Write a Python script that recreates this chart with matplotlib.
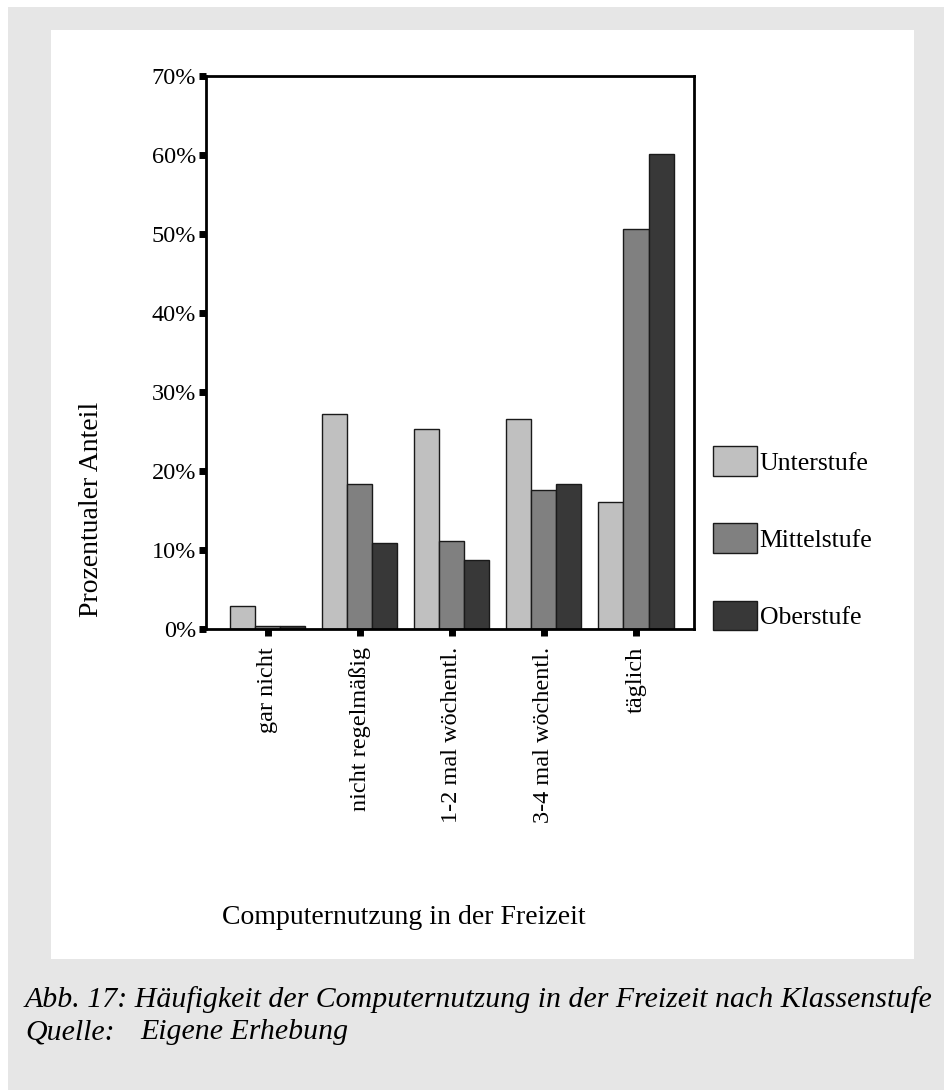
import matplotlib
matplotlib.use('Agg')
import matplotlib.pyplot as plt
import numpy as np
from matplotlib.patches import Rectangle
from matplotlib.ticker import FuncFormatter

categories = ['gar nicht', 'nicht regelmäßig', '1-2 mal wöchentl.', '3-4 mal wöchentl.', 'täglich']
unterstufe = [2.9, 27.2, 25.3, 26.6, 16.1]
mittelstufe = [0.4, 18.3, 11.1, 17.6, 50.6]
oberstufe = [0.4, 10.9, 8.7, 18.3, 60.1]
series_names = ['Unterstufe', 'Mittelstufe', 'Oberstufe']
colors = ['#c0c0c0', '#808080', '#383838']

plt.rcParams['font.family'] = ['Liberation Serif', 'DejaVu Serif']

W, H = 944, 1090
fig = plt.figure(figsize=(W / 100, H / 100), dpi=100)
fig.patch.set_facecolor('white')

# grey page background and white chart panel
fig.patches.append(Rectangle((8 / W, 0), 1 - 8 / W, 1 - 7 / H, transform=fig.transFigure,
                             facecolor='#e6e6e6', edgecolor='none', zorder=-2))
fig.patches.append(Rectangle((51 / W, 1 - 959 / H), (914 - 51) / W, (959 - 30) / H,
                             transform=fig.transFigure, facecolor='white', edgecolor='none', zorder=-1))

ax = fig.add_axes([206 / W, 1 - 629 / H, (694 - 206) / W, (629 - 76) / H])

x = np.arange(len(categories))
width = 0.272
for i, (vals, name, c) in enumerate(zip([unterstufe, mittelstufe, oberstufe], series_names, colors)):
    ax.bar(x + (i - 1) * width, vals, width, color=c, edgecolor='#1a1a1a', linewidth=1.0, label=name)

ax.set_ylim(0, 70)
ax.set_xlim(-0.67, 4.63)
ax.set_yticks(range(0, 71, 10))
ax.yaxis.set_major_formatter(FuncFormatter(lambda v, p: f'{int(v)}%'))
ax.set_xticks(x)
ax.set_xticklabels(categories, rotation=90, va='top', ha='center')
ax.tick_params(axis='both', labelsize=17.5, direction='out', width=5, length=5, color='black')
ax.tick_params(axis='y', pad=2)
ax.tick_params(axis='x', pad=8)
for s in ax.spines.values():
    s.set_linewidth(2)
    s.set_color('black')

fig.text(92 / W, 1 - 509 / H, 'Prozentualer Anteil', rotation=90, fontsize=20,
         ha='center', va='center')
fig.text(404 / W, 1 - 918 / H, 'Computernutzung in der Freizeit', fontsize=20,
         ha='center', va='center')

# legend drawn beside the axes
handles, labels = ax.get_legend_handles_labels()
fig.legend(handles, labels, loc='upper left', bbox_to_anchor=(703 / W, 1 - 436 / H),
           frameon=False, fontsize=18.5, handlelength=1.7, handleheight=1.4,
           handletextpad=0.1, labelspacing=1.85, borderaxespad=0)

fig.text(25 / W, 1 - 1000 / H, 'Abb. 17: Häufigkeit der Computernutzung in der Freizeit nach Klassenstufe',
         fontsize=21.5, style='italic', ha='left', va='center')
fig.text(25 / W, 1 - 1032 / H, 'Quelle:', fontsize=21.5, style='italic', ha='left', va='center')
fig.text(140 / W, 1 - 1032 / H, 'Eigene Erhebung', fontsize=21.5, style='italic', ha='left', va='center')

fig.savefig('out.png', dpi=100)
